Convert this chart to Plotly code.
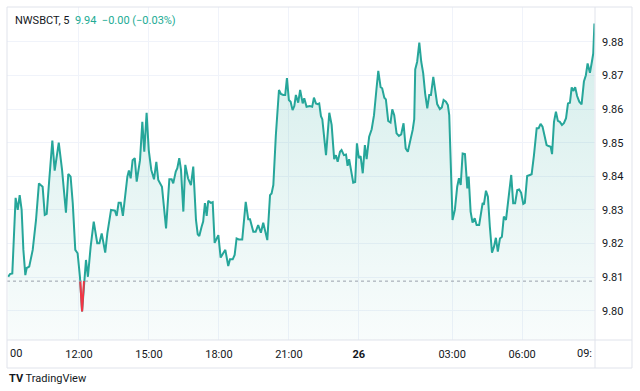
import plotly.graph_objects as go

# ---- data (5-minute bar index, price) ----
bar_idx = [-0.4,0.5,1.7,3.4,4.5,5.5,6.5,7.4,8.4,9.1,10.4,12.2,13.9,15.4,16.3,17.3,18.4,19.4,20.7,22.3,
           23.5,25.6,27.3,29.3,30.5,31.7,32.8,34.1,35.3,36.5,37.6,38.6,39.6,40.6,42.0,43.6,45.4,46.5,47.7,49.5,
           50.6,52.5,54.5,55.4,56.4,57.5,58.6,
           60.9,61.7,62.6,63.6,64.7,65.7,67.4,68.6,69.6,70.8,71.9,73.2,74.6,75.8,76.8,78.7,80.8,82.5,83.7,84.5,
           85.8,86.6,87.6,88.5,89.7,90.7,92.1,93.6,94.8,96.2,97.1,97.9,99.1,99.9,100.8,101.7,102.5,103.8,104.8,105.8,
           107.7,108.9,110.2,111.3,112.8,113.7,115.1,116.1,117.1,118.2,
           120.0,121.8,123.1,124.0,125.7,126.9,128.2,129.6,130.8,132.9,
           134.3,135.1,136.0,137.3,138.9,139.9,141.1,142.1,143.0,144.0,
           144.9,145.9,146.8,147.6,148.8,149.8,151.1,151.9,153.1,154.8,
           156.0,156.9,157.9,158.8,159.6,160.5,161.2,163.1,164.8,166.0,
           167.3,168.2,169.1,170.3,171.1,172.3,173.4,174.2,175.0,175.9,
           177.1,178.1,179.0,180.0,180.9,182.0,183.1,184.0,185.3,186.6,
           187.8,189.1,190.0,191.2,192.0,193.1,193.9,195.1,196.3,197.2,
           198.2,199.4,200.6,201.8,203.0,204.1,205.2,206.6,207.7,208.5,
           209.0,210.0,211.1,212.1,213.1,214.1,215.2,216.2,217.1,218.3,
           219.3,220.3,221.7,222.7,223.6,224.8,225.8,226.5,228.2,229.4,
           230.6,231.5,232.4,233.4,234.6,235.8,236.5,237.5,238.5,239.6,
           240.6,241.9,
           243.7,244.3,245.4,246.4,247.4,248.5,249.5,250.5,251.5,252.6,
           253.6,254.6,255.7,257.0,258.4,259.4,260.4,261.5,262.5,263.5,
           264.6,265.4,266.6,268.0,268.9,270.1,271.5,272.5,273.5,274.5,
           275.6,276.6,277.6,278.7,279.4,280.4,281.4,282.4,283.4,284.5,
           285.5,286.6,287.6,288.6,289.5,290.3,291.3,292.3,293.4,294.6,
           295.8,296.8,297.7,298.9,299.9,300.6,301.2]

price = [9.8101,9.8109,9.8111,9.8336,9.8300,9.8344,9.8300,9.8181,9.8106,9.8127,
         9.8131,9.8181,9.8270,9.8379,9.8374,9.8369,9.8285,9.8288,9.8389,9.8506,
         9.8417,9.8500,9.8419,9.8292,9.8407,9.8399,9.8320,9.8181,9.8171,9.8101,
         9.7998,9.8091,9.8151,9.8101,9.8190,9.8265,9.8201,9.8201,9.8230,9.8173,
         9.8230,9.8300,9.8298,9.8282,9.8321,9.8321,9.8282,
         9.8399,9.8417,9.8394,9.8448,9.8454,9.8384,9.8448,9.8562,9.8473,9.8589,
         9.8478,9.8419,9.8391,9.8443,9.8389,9.8369,9.8245,9.8391,9.8391,9.8379,
         9.8414,9.8424,9.8454,9.8419,9.8295,9.8434,9.8394,9.8374,9.8429,9.8270,
         9.8227,9.8222,9.8250,9.8265,9.8320,9.8282,9.8327,9.8321,9.8323,9.8202,
         9.8225,9.8158,9.8171,9.8181,9.8133,9.8153,9.8153,9.8166,9.8215,9.8212,
         9.8212,9.8324,9.8272,9.8272,9.8235,9.8235,9.8255,9.8232,9.8262,9.8210,
         9.8344,9.8349,9.8374,9.8523,9.8657,9.8645,9.8642,9.8642,9.8692,9.8627,
         9.8622,9.8597,9.8609,9.8642,9.8619,9.8657,9.8617,9.8632,9.8607,9.8609,
         9.8607,9.8634,9.8617,9.8615,9.8617,9.8579,9.8570,9.8463,9.8589,9.8553,
         9.8451,9.8463,9.8443,9.8473,9.8478,9.8463,9.8465,9.8431,9.8451,9.8419,
         9.8381,9.8383,9.8498,9.8454,9.8460,9.8409,9.8493,9.8451,9.8518,9.8540,
         9.8582,9.8662,9.8714,9.8665,9.8662,9.8634,9.8629,9.8565,9.8560,9.8599,
         9.8582,9.8528,9.8520,9.8525,9.8558,9.8483,9.8473,9.8510,9.8538,9.8570,
         9.8718,9.8741,9.8798,9.8741,9.8707,9.8647,9.8602,9.8642,9.8642,9.8696,
         9.8652,9.8615,9.8600,9.8605,9.8627,9.8622,9.8612,9.8582,9.8270,9.8300,
         9.8369,9.8394,9.8374,9.8468,9.8466,9.8364,9.8399,9.8295,9.8262,9.8275,
         9.8255,9.8255,
         9.8321,9.8315,9.8357,9.8339,9.8250,9.8173,9.8190,9.8217,9.8176,9.8215,
         9.8220,9.8280,9.8270,9.8329,9.8404,9.8320,9.8320,9.8359,9.8361,9.8351,
         9.8318,9.8321,9.8401,9.8404,9.8406,9.8463,9.8543,9.8543,9.8556,9.8548,
         9.8523,9.8493,9.8490,9.8488,9.8466,9.8562,9.8592,9.8565,9.8562,9.8553,
         9.8558,9.8573,9.8617,9.8619,9.8665,9.8654,9.8665,9.8639,9.8622,9.8614,
         9.8682,9.8701,9.8736,9.8708,9.8741,9.8766,9.8855]

prev_close = 9.8088

x_tick_vals = [36, 72, 108, 144, 180, 228, 264]
x_tick_text = ["12:00", "15:00", "18:00", "21:00", "<b>26</b>", "03:00", "06:00"]
y_tick_vals = [9.80, 9.81, 9.82, 9.83, 9.84, 9.85, 9.86, 9.87, 9.88]

symbol = "NWSBCT, 5"
last_txt = "9.94"
chg_txt = "\u22120.00 (\u22120.03%)"

GREEN = "#26a69a"
RED = "#f23645"
TXT = "#131722"
BORDER = "#e0e3eb"
GRID = "#f0f3fa"
FONT = "Roboto, sans-serif"

# ---- red segments below previous close ----
rx, ry = [], []
for i in range(len(price) - 1):
    x0, y0, x1, y1 = bar_idx[i], price[i], bar_idx[i + 1], price[i + 1]
    b0, b1 = y0 < prev_close, y1 < prev_close
    if not b0 and not b1:
        continue
    if b0 and b1:
        sx, sy, ex, ey = x0, y0, x1, y1
    elif b1:
        t = (prev_close - y0) / (y1 - y0)
        sx, sy, ex, ey = x0 + t * (x1 - x0), prev_close, x1, y1
    else:
        t = (prev_close - y0) / (y1 - y0)
        sx, sy, ex, ey = x0, y0, x0 + t * (x1 - x0), prev_close
    if rx and rx[-1] == sx:
        rx.append(ex); ry.append(ey)
    else:
        if rx:
            rx.append(None); ry.append(None)
        rx += [sx, ex]; ry += [sy, ey]

fig = go.Figure()
fig.add_trace(go.Scatter(
    x=bar_idx, y=price, mode="lines",
    line=dict(color=GREEN, width=2),
    fill="tozeroy",
    fillgradient=dict(type="vertical", start=9.7913, stop=max(price),
                      colorscale=[[0, "rgba(38,166,154,0.03)"], [1, "rgba(38,166,154,0.20)"]]),
    hoverinfo="skip", showlegend=False,
))
fig.add_trace(go.Scatter(
    x=rx, y=ry, mode="lines", line=dict(color=RED, width=2),
    hoverinfo="skip", showlegend=False,
))

fig.add_shape(type="line", xref="paper", yref="y", x0=0, x1=1, y0=prev_close, y1=prev_close,
              line=dict(color="#9aa0ab", width=1, dash="dot"), layer="above")

# frame
frame = dict(color=BORDER, width=1)
fig.add_shape(type="rect", xref="paper", yref="paper", x0=0, x1=1.0629, y0=-0.0841, y1=1,
              line=frame, layer="above")
fig.add_shape(type="line", xref="paper", yref="paper", x0=0, x1=1.0629, y0=0, y1=0, line=frame)
fig.add_shape(type="line", xref="paper", yref="paper", x0=1, x1=1, y0=-0.0841, y1=1, line=frame)

fig.add_annotation(xref="paper", yref="paper", x=0, y=1, xanchor="left", yanchor="top",
                   xshift=6, yshift=-5, showarrow=False, align="left",
                   text=f"<span style='color:{TXT}'>{symbol}</span>\u00a0\u00a0"
                        f"<span style='color:#22ab94'>{last_txt}\u00a0\u00a0{chg_txt}</span>",
                   font=dict(family=FONT, size=11))
fig.add_annotation(xref="paper", yref="paper", x=0, y=0, xanchor="left", yanchor="middle",
                   xshift=1, yshift=-13, showarrow=False, text="00",
                   font=dict(family=FONT, size=11, color=TXT))
fig.add_annotation(xref="paper", yref="paper", x=1, y=0, xanchor="right", yanchor="middle",
                   xshift=-1, yshift=-13, showarrow=False, text="09:",
                   font=dict(family=FONT, size=11, color=TXT))
fig.add_annotation(xref="paper", yref="paper", x=0, y=0, xanchor="left", yanchor="middle",
                   xshift=0, yshift=-38, showarrow=False,
                   text=f"<b>TV</b> TradingView",
                   font=dict(family=FONT, size=11, color=TXT))

fig.update_layout(
    width=640, height=391,
    margin=dict(l=7, r=45, t=7, b=51),
    paper_bgcolor="white", plot_bgcolor="white",
    font=dict(family=FONT, size=11, color=TXT),
    xaxis=dict(range=[-1.03, 301.5], tickvals=x_tick_vals, ticktext=x_tick_text,
               showgrid=True, gridcolor=GRID, gridwidth=1, zeroline=False,
               showline=False, ticks="", ticklabelstandoff=6, fixedrange=True),
    yaxis=dict(range=[9.79128, 9.89039], side="right", tickvals=y_tick_vals, tickformat=".2f",
               showgrid=True, gridcolor=GRID, gridwidth=1, zeroline=False,
               showline=False, ticks="", ticklabelstandoff=6, fixedrange=True),
)

fig.write_html("out.html", config={"displayModeBar": False},
               post_script="document.body.style.margin='0';document.body.style.overflow='hidden';")
